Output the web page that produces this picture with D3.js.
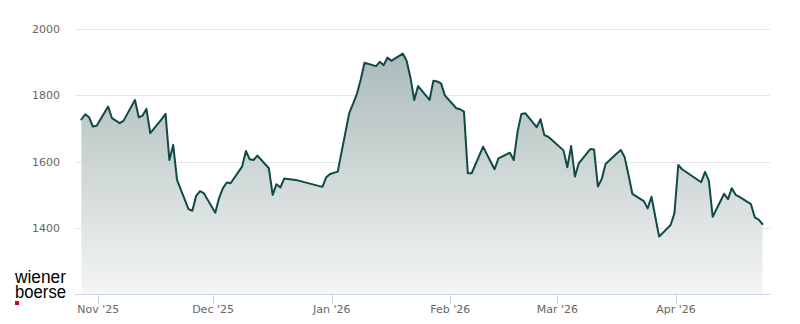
<!DOCTYPE html>
<html>
<head>
<meta charset="utf-8">
<script src="https://cdn.jsdelivr.net/npm/d3@7/dist/d3.min.js"></script>
<style>
  html, body { margin: 0; padding: 0; background: #ffffff; }
  svg { display: block; }
</style>
</head>
<body>
<svg id="chart" width="800" height="324"></svg>
<script>
// ---- data (daily closes) ----
const dates = [
  "2025-10-27","2025-10-28","2025-10-29","2025-10-30","2025-10-31",
  "2025-11-03","2025-11-04","2025-11-05","2025-11-06","2025-11-07",
  "2025-11-10","2025-11-11","2025-11-12","2025-11-13","2025-11-14",
  "2025-11-17","2025-11-18","2025-11-19","2025-11-20","2025-11-21",
  "2025-11-24","2025-11-25","2025-11-26","2025-11-27","2025-11-28",
  "2025-12-01","2025-12-02","2025-12-03","2025-12-04","2025-12-05",
  "2025-12-08","2025-12-09","2025-12-10","2025-12-11","2025-12-12",
  "2025-12-15","2025-12-16","2025-12-17","2025-12-18","2025-12-19",
  "2025-12-22","2025-12-23","2025-12-29","2025-12-30","2025-12-31",
  "2026-01-02","2026-01-05","2026-01-06","2026-01-07","2026-01-08","2026-01-09",
  "2026-01-12","2026-01-13","2026-01-14","2026-01-15","2026-01-16",
  "2026-01-19","2026-01-20","2026-01-21","2026-01-22","2026-01-23",
  "2026-01-26","2026-01-27","2026-01-28","2026-01-29","2026-01-30",
  "2026-02-02","2026-02-03","2026-02-04","2026-02-05","2026-02-06",
  "2026-02-09","2026-02-10","2026-02-11","2026-02-12","2026-02-13",
  "2026-02-16","2026-02-17","2026-02-18","2026-02-19","2026-02-20",
  "2026-02-23","2026-02-24","2026-02-25","2026-02-26","2026-02-27",
  "2026-03-02","2026-03-03","2026-03-04","2026-03-05","2026-03-06",
  "2026-03-09","2026-03-10","2026-03-11","2026-03-12","2026-03-13",
  "2026-03-16","2026-03-17","2026-03-18","2026-03-19","2026-03-20",
  "2026-03-23","2026-03-24","2026-03-25","2026-03-26","2026-03-27",
  "2026-03-30","2026-03-31","2026-04-01","2026-04-02",
  "2026-04-07","2026-04-08","2026-04-09","2026-04-10",
  "2026-04-13","2026-04-14","2026-04-15","2026-04-16","2026-04-17",
  "2026-04-20","2026-04-21","2026-04-22","2026-04-23"
];
const values = [
  1727,1743,1734,1706,1708,
  1766,1731,1724,1716,1723,
  1786,1734,1739,1759,1686,
  1728,1744,1605,1650,1545,
  1457,1452,1497,1511,1505,
  1446,1491,1520,1537,1535,
  1585,1632,1607,1605,1618,
  1580,1500,1532,1522,1549,
  1545,1542,1524,1553,1563,
  1570,1746,1774,1804,1847,1898,
  1888,1901,1891,1914,1904,
  1926,1904,1854,1786,1828,
  1786,1844,1842,1836,1800,
  1761,1758,1751,1565,1565,
  1645,1622,1599,1577,1610,
  1627,1605,1690,1744,1746,
  1704,1728,1680,1675,1665,
  1634,1583,1647,1555,1595,
  1638,1637,1525,1548,1593,
  1625,1635,1613,1560,1503,
  1481,1459,1494,1434,1374,
  1409,1444,1590,1577,
  1538,1569,1543,1434,
  1503,1487,1520,1500,1494,
  1472,1432,1425,1412
];
const yTicks = [1400, 1600, 1800, 2000];
const xTickDates = ["2025-11-01","2025-12-01","2026-01-01","2026-02-01","2026-03-01","2026-04-01"];
const logoLines = ["wiener", "boerse"];

// ---- setup ----
const parse = d3.timeParse("%Y-%m-%d");
const CLOSE_HOURS = 14; // quotes are stamped at the afternoon close
const data = dates.map((d, i) => ({ date: d3.timeHour.offset(parse(d), CLOSE_HOURS), value: values[i] }));

const svg = d3.select("#chart");
const plotLeft = 75, plotRight = 770, plotTop = 29, plotBottom = 294.3;

const x = d3.scaleTime()
  .domain([new Date(2025, 9, 25, 22), new Date(2026, 3, 25, 13, 30)])
  .range([plotLeft, plotRight]);
const y = d3.scaleLinear().domain([1200, 2000]).range([plotBottom, plotTop]);

const FONT = "'DejaVu Sans', Verdana, sans-serif";

// gradient
const defs = svg.append("defs");
const grad = defs.append("linearGradient")
  .attr("id", "areaGrad")
  .attr("gradientUnits", "userSpaceOnUse")
  .attr("x1", 0).attr("x2", 0)
  .attr("y1", y(2000)).attr("y2", y(1200));
grad.append("stop").attr("offset", "0%").attr("stop-color", "#a3b5b3");
grad.append("stop").attr("offset", "100%").attr("stop-color", "#f4f5f5");

// gridlines
svg.append("g").selectAll("line").data(yTicks).join("line")
  .attr("x1", plotLeft).attr("x2", plotRight)
  .attr("y1", d => Math.round(y(d)) + 0.5).attr("y2", d => Math.round(y(d)) + 0.5)
  .attr("stroke", "#e6e6e6").attr("stroke-width", 1);

// y labels
svg.append("g").selectAll("text").data(yTicks).join("text")
  .attr("x", 60).attr("y", d => y(d) + 4)
  .attr("text-anchor", "end")
  .attr("font-family", FONT).attr("font-size", 11).attr("fill", "#666666")
  .text(d => d);

// area
const area = d3.area()
  .x(d => x(d.date)).y0(y(1200)).y1(d => y(d.value));
svg.append("path").datum(data)
  .attr("d", area).attr("fill", "url(#areaGrad)");

// line
const line = d3.line().x(d => x(d.date)).y(d => y(d.value));
svg.append("path").datum(data)
  .attr("d", line).attr("fill", "none")
  .attr("stroke", "#0f4a45").attr("stroke-width", 2)
  .attr("stroke-linejoin", "round").attr("stroke-linecap", "round");

// x axis
const xAxis = svg.append("g");
xAxis.append("line")
  .attr("x1", plotLeft).attr("x2", plotRight)
  .attr("y1", Math.round(plotBottom) + 0.5).attr("y2", Math.round(plotBottom) + 0.5)
  .attr("stroke", "#ccd6eb");
const xt = xTickDates.map(parse);
xAxis.selectAll("line.tick").data(xt).join("line").attr("class", "tick")
  .attr("x1", d => Math.round(x(d)) + 0.5).attr("x2", d => Math.round(x(d)) + 0.5)
  .attr("y1", Math.round(plotBottom)).attr("y2", Math.round(plotBottom) + 10)
  .attr("stroke", "#ccd6eb");
const fmt = d3.timeFormat("%b '%y");
xAxis.selectAll("text").data(xt).join("text")
  .attr("x", d => x(d)).attr("y", 313)
  .attr("text-anchor", "middle")
  .attr("font-family", FONT).attr("font-size", 11).attr("fill", "#666666")
  .text(d => fmt(d));

// logo (one text block, two lines)
const logo = svg.append("g");
const logoText = logo.append("text")
  .attr("font-family", "'Liberation Sans Narrow', 'Liberation Sans', Arial, sans-serif")
  .attr("font-size", 18).attr("fill", "#000000");
logoText.selectAll("tspan").data(logoLines).join("tspan")
  .attr("x", 15).attr("y", (d, i) => 283 + i * 15)
  .attr("textLength", 51).attr("lengthAdjust", "spacingAndGlyphs")
  .text(d => d);
logo.append("rect").attr("x", 15).attr("y", 301).attr("width", 4).attr("height", 4).attr("fill", "#d0021b");
</script>
</body>
</html>
